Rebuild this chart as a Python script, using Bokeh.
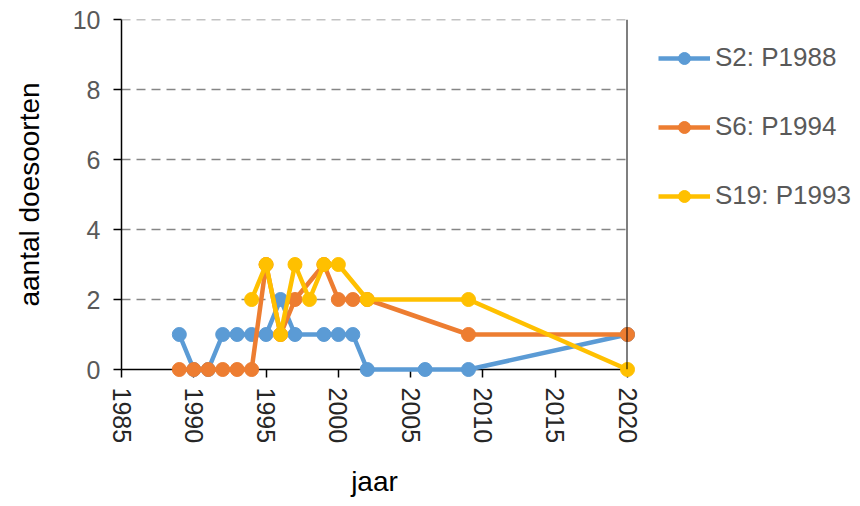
import math
from bokeh.plotting import figure
from bokeh.models import Range1d, Legend, LegendItem, Span, FixedTicker
from bokeh.embed import file_html
from bokeh.resources import INLINE

# data
s2_years = [1989, 1990, 1991, 1992, 1993, 1994, 1995, 1996, 1997, 1999, 2000, 2001, 2002, 2006, 2009, 2020]
s2_vals = [1, 0, 0, 1, 1, 1, 1, 2, 1, 1, 1, 1, 0, 0, 0, 1]
s6_years = [1989, 1990, 1991, 1992, 1993, 1994, 1995, 1996, 1997, 1999, 2000, 2001, 2002, 2009, 2020]
s6_vals = [0, 0, 0, 0, 0, 0, 3, 1, 2, 3, 2, 2, 2, 1, 1]
s19_years = [1994, 1995, 1996, 1997, 1998, 1999, 2000, 2002, 2009, 2020]
s19_vals = [2, 3, 1, 3, 2, 3, 3, 2, 2, 0]
series_names = ["S2: P1988", "S6: P1994", "S19: P1993"]
x_ticks = [1985, 1990, 1995, 2000, 2005, 2010, 2015, 2020]
y_ticks = [0, 2, 4, 6, 8, 10]

colors = ["#5B9BD5", "#ED7D31", "#FFC000"]
FONT = "Liberation Sans"

p = figure(frame_width=506, frame_height=350, output_backend="svg", toolbar_location=None,
           x_range=Range1d(1985, 2020), y_range=Range1d(0, 10),
           min_border_left=121, min_border_right=225, min_border_top=19, min_border_bottom=129)
p.outline_line_color = None
p.background_fill_color = "white"

p.xgrid.grid_line_color = None
p.ygrid.grid_line_color = "#868686"
p.ygrid.grid_line_dash = "9 6"
p.ygrid.grid_line_width = 1.5
p.ygrid.ticker = FixedTicker(ticks=y_ticks)

p.xaxis.ticker = FixedTicker(ticks=x_ticks)
p.yaxis.ticker = FixedTicker(ticks=y_ticks)
for ax in (p.xaxis[0], p.yaxis[0]):
    ax.axis_line_color = "black"
    ax.axis_line_width = 1.5
    ax.major_tick_line_color = "black"
    ax.major_tick_line_width = 1.5
    ax.major_tick_out = 8
    ax.major_tick_in = 0
    ax.minor_tick_line_color = None
    ax.major_label_text_font = FONT
    ax.major_label_text_font_size = "25px"
    ax.axis_label_text_font = FONT
    ax.axis_label_text_font_size = "28px"
    ax.axis_label_text_font_style = "normal"
    ax.axis_label_text_color = "black"

p.xaxis.major_label_orientation = -math.pi / 2
p.xaxis.major_label_text_color = "#262626"
p.xaxis.major_label_standoff = 10
p.xaxis.axis_label = "jaar"
p.xaxis.axis_label_standoff = 20
p.yaxis.major_label_text_color = "#595959"
p.yaxis.major_label_standoff = 13
p.yaxis.axis_label = "aantal doesoorten"
p.yaxis.axis_label_standoff = 25

p.add_layout(Span(location=10, dimension="width", line_color="#868686", line_width=1.5,
                  line_dash="9 6", level="overlay"))
p.add_layout(Span(location=2020, dimension="height", line_color="black", line_width=2,
                  level="overlay"))

items = []
for (xs, ys), c, name in zip([(s2_years, s2_vals), (s6_years, s6_vals), (s19_years, s19_vals)], colors, series_names):
    l = p.line(xs, ys, line_color=c, line_width=4.5, level="overlay")
    s = p.scatter(xs, ys, marker="circle", size=14, fill_color=c, line_color=c, level="overlay")
    items.append(LegendItem(label=name, renderers=[l, s]))

legend = Legend(items=items, location=(31, 158), margin=0, padding=0,
                glyph_width=52, glyph_height=30, label_height=30, label_standoff=5, spacing=38,
                label_text_font=FONT, label_text_font_size="26px", label_text_color="#595959",
                border_line_color=None, background_fill_alpha=0)
p.add_layout(legend, "right")

open("out.html", "w").write(file_html(p, INLINE))
